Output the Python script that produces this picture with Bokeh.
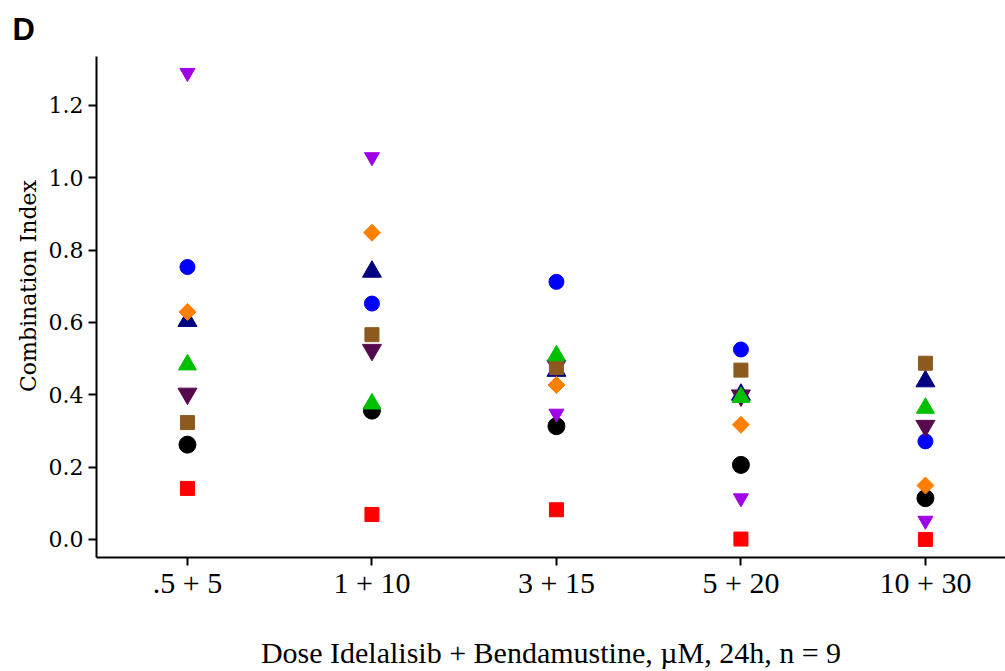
import math
from bokeh.plotting import figure
from bokeh.models import Title, FixedTicker
from bokeh.embed import file_html
from bokeh.resources import INLINE

doses = [".5 + 5", "1 + 10", "3 + 15", "5 + 20", "10 + 30"]
xpos = [1, 2, 3, 4, 5]
y_ticks = [0.0, 0.2, 0.4, 0.6, 0.8, 1.0, 1.2]

black_circle = [0.262, 0.356, 0.313, 0.206, 0.114]
red_square = [0.141, 0.069, 0.082, 0.001, 0.000]
blue_circle = [0.753, 0.652, 0.712, 0.525, 0.271]
navy_triangle = [0.604, 0.740, 0.466, 0.400, 0.437]
maroon_inv_tri = [0.403, 0.524, 0.480, 0.398, 0.314]
purple_inv_tri = [1.290, 1.057, 0.348, 0.114, 0.052]
brown_square = [0.323, 0.566, 0.475, 0.468, 0.487]
orange_diamond = [0.629, 0.848, 0.427, 0.317, 0.149]
green_triangle = [0.483, 0.375, 0.508, 0.393, 0.363]

# (values, marker, colour, size, angle)
series = [
    (black_circle, "circle", "#000000", 17, 0),
    (red_square, "square", "#ff0000", 14, 0),
    (blue_circle, "circle", "#0000ff", 15, 0),
    (navy_triangle, "triangle", "#000080", 19, 0),
    (maroon_inv_tri, "inverted_triangle", "#560a4e", 19, 0),
    (purple_inv_tri, "inverted_triangle", "#a000e6", 15, 0),
    (brown_square, "square", "#8c5a1e", 14, 0),
    (orange_diamond, "square", "#ff8000", 12, math.pi / 4),
    (green_triangle, "triangle", "#00c000", 18, 0),
]

p = figure(width=1005, height=671, output_backend="svg", toolbar_location=None,
           x_range=(0.507, 5.434), y_range=(-0.05, 1.335),
           min_border_left=96, min_border_right=0, min_border_top=55, min_border_bottom=114)

for vals, marker, color, size, ang in series:
    p.scatter(xpos, vals, marker=marker, size=size, angle=ang,
              fill_color=color, line_color=color)

p.xgrid.visible = False
p.ygrid.visible = False
p.outline_line_color = None
p.background_fill_color = "white"

p.xaxis.ticker = FixedTicker(ticks=xpos)
p.xaxis.major_label_overrides = {x: d for x, d in zip(xpos, doses)}
p.yaxis.ticker = FixedTicker(ticks=y_ticks)
p.yaxis.major_label_overrides = {t: f"{t:.1f}" for t in y_ticks}

for ax in (p.xaxis[0], p.yaxis[0]):
    ax.axis_line_color = "black"
    ax.axis_line_width = 2
    ax.major_tick_line_color = "black"
    ax.major_tick_line_width = 2
    ax.major_tick_out = 8
    ax.major_tick_in = 0
    ax.minor_tick_line_color = None
    ax.major_label_text_color = "black"
    ax.axis_label_text_font_style = "normal"
    ax.axis_label_text_color = "black"

p.xaxis.major_label_text_font = "Liberation Serif"
p.xaxis.major_label_text_font_size = "30px"
p.xaxis.major_label_standoff = 0
p.xaxis.axis_label = "Dose Idelalisib + Bendamustine, \u00b5M, 24h, n = 9"
p.xaxis.axis_label_text_font = "Liberation Serif"
p.xaxis.axis_label_text_font_size = "30px"
p.xaxis.axis_label_standoff = 34

p.yaxis.major_label_text_font = "DejaVu Serif"
p.yaxis.major_label_text_font_size = "22px"
p.yaxis.major_label_standoff = 5
p.yaxis.axis_label = "\u00a0" * 6 + "Combination Index"
p.yaxis.axis_label_text_font = "DejaVu Serif"
p.yaxis.axis_label_text_font_size = "22px"
p.yaxis.axis_label_standoff = 5

p.title = Title(text="D", align="left", offset=-84, standoff=19, text_font="Liberation Sans",
                text_font_size="31px", text_font_style="bold", text_color="black")

open("out.html", "w").write(file_html(p, INLINE))
